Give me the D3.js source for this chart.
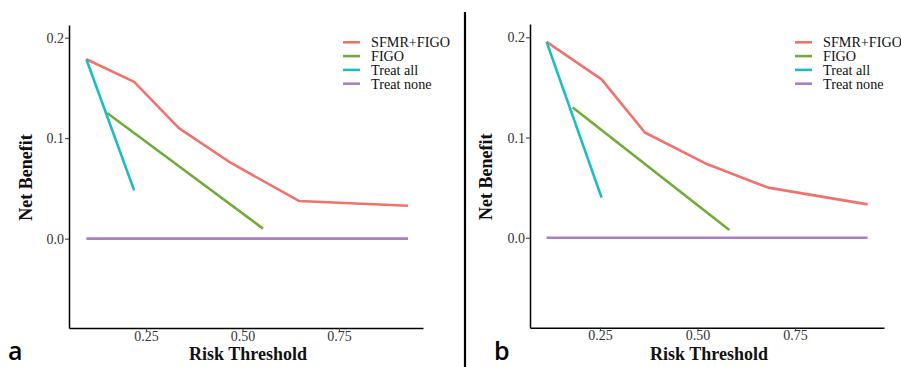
<!DOCTYPE html>
<html><head><meta charset="utf-8">
<script src="https://cdn.jsdelivr.net/npm/d3@7"></script>
<style>body{margin:0;background:#fff}svg{display:block}</style>
</head><body>
<svg id="c" width="901" height="367"></svg>
<script>
const seriesNames = ["SFMR+FIGO", "FIGO", "Treat all", "Treat none"];
const seriesColors = ["#F0726B", "#72AB38", "#1DBCC3", "#A97DC8"];
const xTicks = [0.25, 0.50, 0.75];
const yTicks = [0.0, 0.1, 0.2];

// Panel a
const aModelX = [0.095, 0.219, 0.335, 0.470, 0.646, 0.929];
const aModelY = [0.1785, 0.156, 0.110, 0.0753, 0.0375, 0.0328];
const aFigoX = [0.149, 0.553];
const aFigoY = [0.125, 0.010];
const aAllX = [0.095, 0.219];
const aAllY = [0.1785, 0.048];
const aNoneX = [0.095, 0.929];
const aNoneY = [0, 0];

// Panel b
const bModelX = [0.113, 0.254, 0.365, 0.519, 0.681, 0.936];
const bModelY = [0.1955, 0.158, 0.105, 0.0744, 0.050, 0.0333];
const bFigoX = [0.180, 0.5815];
const bFigoY = [0.130, 0.0077];
const bAllX = [0.113, 0.254];
const bAllY = [0.1955, 0.040];
const bNoneX = [0.113, 0.936];
const bNoneY = [0, 0];

const svg = d3.select("#c");
const zip = (xs, ys) => xs.map((x, i) => [x, ys[i]]);
const serif = "Liberation Serif, Times New Roman, serif";

function panel(cfg) {
  const x = d3.scaleLinear().domain(cfg.xd).range([cfg.left, cfg.right]);
  const y = d3.scaleLinear().domain(cfg.yd).range([cfg.bottom, cfg.top]);
  const g = svg.append("g");
  const fmtX = d3.format(".2f"), fmtY = d3.format(".1f");

  const xa = g.append("g").attr("transform", `translate(0,${cfg.bottom})`)
    .call(d3.axisBottom(x).tickValues(xTicks).tickFormat(fmtX).tickSize(3).tickSizeOuter(0));
  const ya = g.append("g").attr("transform", `translate(${cfg.left},0)`)
    .call(d3.axisLeft(y).tickValues(yTicks).tickFormat(fmtY).tickSize(4).tickSizeOuter(0));
  [xa, ya].forEach(a => {
    a.select(".domain").attr("stroke", "#000").attr("stroke-width", 1.5);
    a.selectAll(".tick line").attr("stroke", "#333");
    a.selectAll("text").attr("font-family", serif)
      .attr("font-size", 14).attr("fill", "#333");
  });
  xa.selectAll(".tick text").attr("y", 0).attr("dy", "0").attr("transform", "translate(0,12.5)");
  ya.selectAll("text").attr("x", -5);

  const line = d3.line().x(d => x(d[0])).y(d => y(d[1]));
  cfg.series.forEach((s, i) => {
    g.append("path").datum(s).attr("d", line).attr("fill", "none")
      .attr("stroke", seriesColors[i]).attr("stroke-width", 2.6).attr("stroke-linejoin", "round");
  });

  // legend
  seriesNames.forEach((n, i) => {
    const ly = cfg.legY + i * 13.8;
    g.append("line").attr("x1", cfg.legX).attr("x2", cfg.legX + 17)
      .attr("y1", ly).attr("y2", ly).attr("stroke", seriesColors[i]).attr("stroke-width", 2.6);
    g.append("text").attr("x", cfg.legX + 28).attr("y", ly + 5)
      .attr("font-family", serif).attr("font-size", 14.2)
      .attr("fill", "#111").text(n);
  });

  g.append("text").attr("x", (cfg.left + cfg.right) / 2 + 2).attr("y", 360)
    .attr("text-anchor", "middle").attr("font-family", serif)
    .attr("font-weight", "bold").attr("font-size", 18).attr("fill", "#111").text("Risk Threshold");
  g.append("text").attr("transform", `translate(${cfg.ytitleX},${(cfg.top + cfg.bottom) / 2 + 1}) rotate(-90)`)
    .attr("text-anchor", "middle").attr("font-family", serif)
    .attr("font-weight", "bold").attr("font-size", 18).attr("fill", "#111").text("Net Benefit");

  g.append("text").attr("x", cfg.labelX).attr("y", 360)
    .attr("font-family", "Open Sans, Noto Sans, sans-serif").attr("font-weight", 600)
    .attr("font-size", 25).attr("fill", "#000").text(cfg.label);
}

panel({
  left: 69, right: 423, top: 25, bottom: 328,
  xd: [0.05, 0.968], yd: [-0.0889, 0.2126],
  series: [zip(aModelX, aModelY), zip(aFigoX, aFigoY), zip(aAllX, aAllY), zip(aNoneX, aNoneY)],
  legX: 343, legY: 42.3, ytitleX: 32, label: "a", labelX: 8
});
panel({
  left: 530, right: 884, top: 24, bottom: 327.7,
  xd: [0.0705, 0.978], yd: [-0.0898, 0.2133],
  series: [zip(bModelX, bModelY), zip(bFigoX, bFigoY), zip(bAllX, bAllY), zip(bNoneX, bNoneY)],
  legX: 795, legY: 42.3, ytitleX: 492, label: "b", labelX: 494
});

svg.append("line").attr("x1", 465).attr("x2", 465).attr("y1", 12).attr("y2", 367)
  .attr("stroke", "#000").attr("stroke-width", 2.2);
</script>
</body></html>
